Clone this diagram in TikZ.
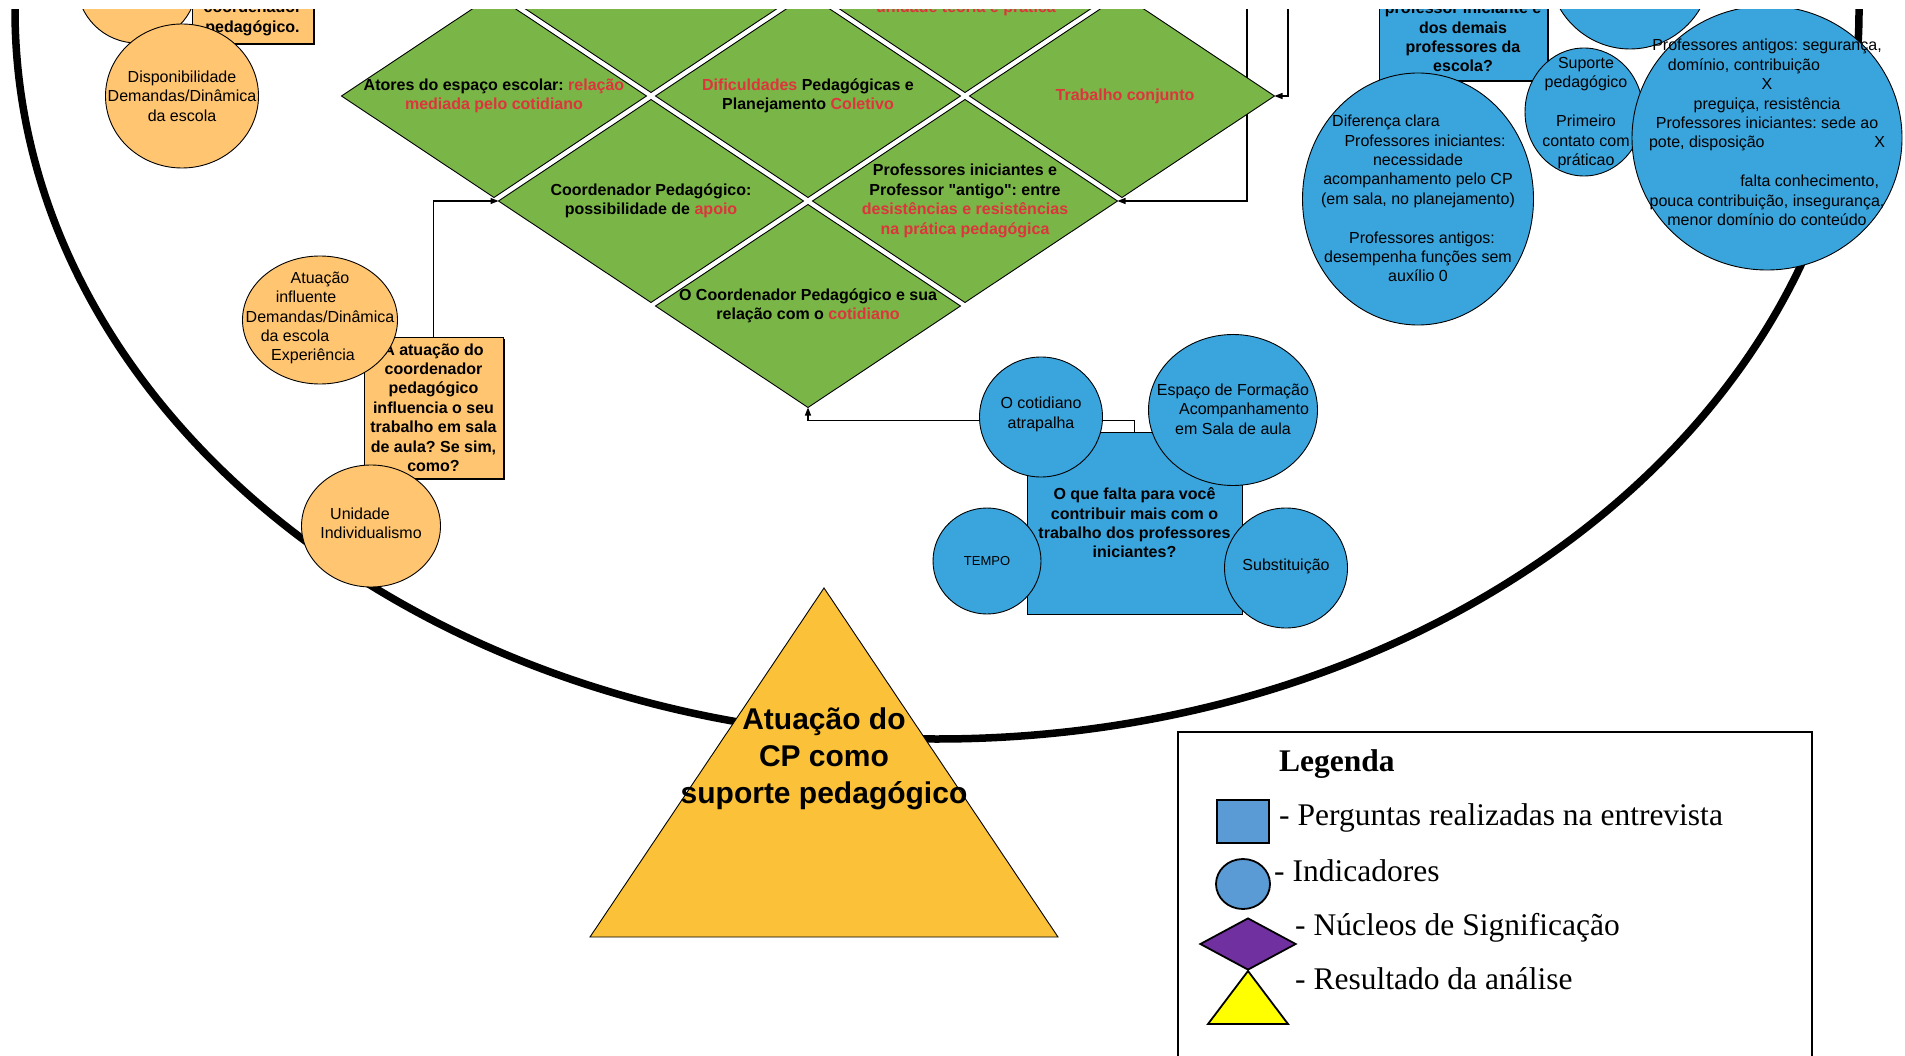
\documentclass[tikz,border=0pt]{standalone}
\usepackage{fontspec}
\setmainfont{Liberation Sans}
\newfontfamily\legfont{Liberation Serif}
\usepackage{tikz}
\usetikzlibrary{positioning, arrows.meta, calc, shapes.geometric, shadows, backgrounds}
\frenchspacing

\definecolor{verde}{RGB}{122,181,71}
\definecolor{rosso}{RGB}{222,52,60}
\definecolor{arancio}{RGB}{255,197,112}
\definecolor{azzurro}{RGB}{58,164,221}
\definecolor{blulegenda}{RGB}{91,155,213}
\definecolor{viola}{RGB}{112,48,160}
\definecolor{giallo}{RGB}{255,255,0}
\definecolor{oro}{RGB}{251,194,57}

\newcommand{\evid}[1]{\textcolor{rosso}{#1}}

\begin{document}
\begin{tikzpicture}[
			x=1pt, y=-1pt,
			ind/.style={ellipse, draw, line width=0.9pt, inner sep=0pt, outer sep=0pt},
			indo/.style={ind, fill=arancio},
			inda/.style={ind, fill=azzurro},
			nucleo/.style={diamond, draw, line width=0.9pt, fill=verde, minimum width=305, minimum height=203, inner sep=0pt, outer sep=0pt},
			domanda/.style={rectangle, draw, line width=0.9pt, inner sep=0pt, align=center, font=\fontsize{16}{19.4}\selectfont\bfseries},
			ombra/.style={drop shadow={shadow xshift=2pt, shadow yshift=-2pt, opacity=1, fill=black}},
			txt/.style={align=center, inner sep=0pt, font=\fontsize{16}{19.4}\selectfont},
			ntxt/.style={align=center, inner sep=0pt, font=\fontsize{16}{19.4}\selectfont\bfseries},
			leg/.style={anchor=base west, inner sep=0pt, font=\legfont\fontsize{31.5}{36}\selectfont},
			conn/.style={line width=1.2pt, -{Triangle[length=8pt, width=6pt]}}
			]
			\useasboundingbox (0,0) rectangle (1905,1056);
			\clip (0,10) rectangle (1905,1056);
			
			% Nuclei di significazione
			\node[nucleo] (dtop) at (651,-9) {};
			\node[nucleo] (unidade) at (965,-9) {};
			\node[ntxt] at (966,8) {\evid{unidade teoria e prática}};
			\node[nucleo] (atores) at (494,96) {};
			\node[ntxt] at (atores) {Atores do espaço escolar: \evid{relação}\\\evid{mediada pelo cotidiano}};
			\node[nucleo] (dific) at (808,96) {};
			\node[ntxt] at (dific) {\evid{Dificuldades} Pedagógicas e\\Planejamento \evid{Coletivo}};
			\node[nucleo] (trabalho) at (1122,96) {};
			\node[ntxt] at (1125,96) {\evid{Trabalho conjunto}};
			\node[nucleo] (coordpa) at (651,201) {};
			\node[ntxt] at (coordpa) {Coordenador Pedagógico:\\possibilidade de \evid{apoio}};
			\node[nucleo] (profs) at (965,201) {};
			\node[ntxt] at (profs) {Professores iniciantes e\\Professor \textquotedbl antigo\textquotedbl: entre\\\evid{desistências e resistências}\\\evid{na prática pedagógica}};
			\node[nucleo] (relcotid) at (808,306) {};
			\node[ntxt] at (808,306) {O Coordenador Pedagógico e sua\\relação com o \evid{cotidiano}};
			
			% Indicatori e domande (arancio)
			\node[indo, minimum width=120, minimum height=120] (indtop) at (137,-17) {};
			\node[domanda, fill=arancio, ombra, minimum width=121, minimum height=49] (qcoord) at (252.5,18.5) {coordenador\\pedagógico.};
			\node[indo, minimum width=153, minimum height=144] (disp) at (182,96) {};
			\node[txt] at (disp) {Disponibilidade\\Demandas/Dinâmica\\da escola};
			\node[domanda, fill=arancio, ombra, minimum width=139, minimum height=141] (qatuacao) at (433.5,407.5) {A atuação do\\coordenador\\pedagógico\\influencia o seu\\trabalho em sala\\de aula? Se sim,\\como?};
			\node[indo, minimum width=155, minimum height=128] (atuacao) at (320,320) {};
			\node[txt] at (320,318) {Atuação\\\hspace*{-28pt}influente\\Demandas/Dinâmica\\\hspace*{-50pt}da escola\\\hspace*{-14pt}Experiência};
			\node[indo, minimum width=139, minimum height=122] (unid) at (371,526) {};
			\node[txt] at (371,523.5) {\hspace*{-22pt}Unidade\\Individualismo};
			
			% Indicatori e domande (azzurro), in alto
			\node[inda, minimum width=164, minimum height=168] (indtop2) at (1630,-35) {};
			\node[domanda, fill=azzurro, ombra, minimum width=168, minimum height=86] (qescola) at (1463,37) {professor iniciante e\\dos demais\\professores da\\escola?};
			\node[inda, minimum width=231, minimum height=252] (diferenca) at (1418,199) {};
			\node[txt] at (1418,198.5) {\hspace*{-64pt}Diferença clara\\\hspace*{14pt}Professores iniciantes:\\necessidade\\acompanhamento pelo CP\\(em sala, no planejamento)\\[19.4pt]\hspace*{8pt}Professores antigos:\\desempenha funções sem\\auxílio 0};
			\node[inda, minimum width=118, minimum height=128] (suporte) at (1584,112) {};
			\node[txt] at (1586,113) {Suporte\\pedagógico\\[19.4pt]Primeiro\\contato com\\práticao};
			\node[inda, minimum width=270, minimum height=264] (antigos) at (1767,138) {};
			\node[txt] at (1767,132.5) {Professores antigos: segurança,\\\hspace*{-46pt}domínio, contribuição\\X\\preguiça, resistência\\Professores iniciantes: sede ao\\\makebox[236pt][l]{pote, disposição\hfill X}\\[19.4pt]\makebox[236pt][r]{falta conhecimento,\hspace{6pt}}\\pouca contribuição, insegurança,\\menor domínio do conteúdo};
			
			% Indicatori e domanda (azzurro), in basso
			\node[domanda, fill=azzurro, minimum width=215, minimum height=182] (qfalta) at (1134.5,523) {O que falta para você\\contribuir mais com o\\trabalho dos professores\\iniciantes?};
			\node[inda, minimum width=123, minimum height=120] (cotidiano) at (1041,417) {};
			\node[txt] at (1041,414.5) {O cotidiano\\atrapalha};
			\node[inda, minimum width=169, minimum height=151] (espaco) at (1233,410) {};
			\node[txt] at (1233,409) {Espaço de Formação\\\hspace*{22pt}Acompanhamento\\em Sala de aula};
			\node[inda, minimum width=108, minimum height=106] (tempo) at (987,561) {};
			\node[txt, font=\fontsize{13}{16}\selectfont] at (tempo) {TEMPO};
			\node[inda, minimum width=123, minimum height=120] (substituicao) at (1286,568) {};
			\node[txt] at (1286,566) {Substituição};
			
			% Risultato
			\draw[line width=0.9pt, fill=oro] (824,588) -- (1058,937) -- (590,937) -- cycle;
			\node[ntxt, font=\fontsize{30}{37}\selectfont\bfseries] (resultado) at (824,759) {Atuação do\\CP como\\suporte pedagógico};
			
			% Legenda
			\node[draw, line width=2pt, minimum width=634, minimum height=360, anchor=north west, inner sep=0pt] (legenda) at (1177,731) {};
			\node[leg, font=\legfont\fontsize{31.5}{36}\selectfont\bfseries] (legtit) at (1279,771) {Legenda};
			\node[draw, line width=1.8pt, fill=blulegenda, minimum width=52, minimum height=43, inner sep=0pt] (legq) at (1243,821.5) {};
			\node[leg] at (1279,825) {- Perguntas realizadas na entrevista};
			\node[ellipse, draw, line width=1.8pt, fill=blulegenda, minimum width=54, minimum height=50, inner sep=0pt] (legi) at (1243,884) {};
			\node[leg] at (1274,881) {- Indicadores};
			\node[diamond, draw, line width=1.8pt, fill=viola, minimum width=96, minimum height=52, inner sep=0pt] (legn) at (1248,944) {};
			\node[leg] at (1295,935) {- Núcleos de Significação};
			\draw[line width=1.8pt, fill=giallo] (1248,971) -- (1288,1024) -- (1208,1024) -- cycle;
			\node[leg] at (1295,989) {- Resultado da análise};
			
			% Contorno e connettori
			\coordinate (dallalto1) at (1288,0);
			\coordinate (dallalto2) at (1247,0);
			\begin{scope}[on background layer]
				\clip (0,10) rectangle (1905,1056);
				\draw[line width=7.5pt] (937,10) ellipse [x radius=922pt, y radius=729pt];
				\draw[conn] (qatuacao.north) |- (coordpa.west);
				\draw[conn] (qfalta.north) -- ++(0,-11) -| (relcotid.south);
				\draw[conn] (dallalto1) |- (trabalho.east);
				\draw[conn] (dallalto2) |- (profs.east);
			\end{scope}
			
		\end{tikzpicture}
\end{document}
